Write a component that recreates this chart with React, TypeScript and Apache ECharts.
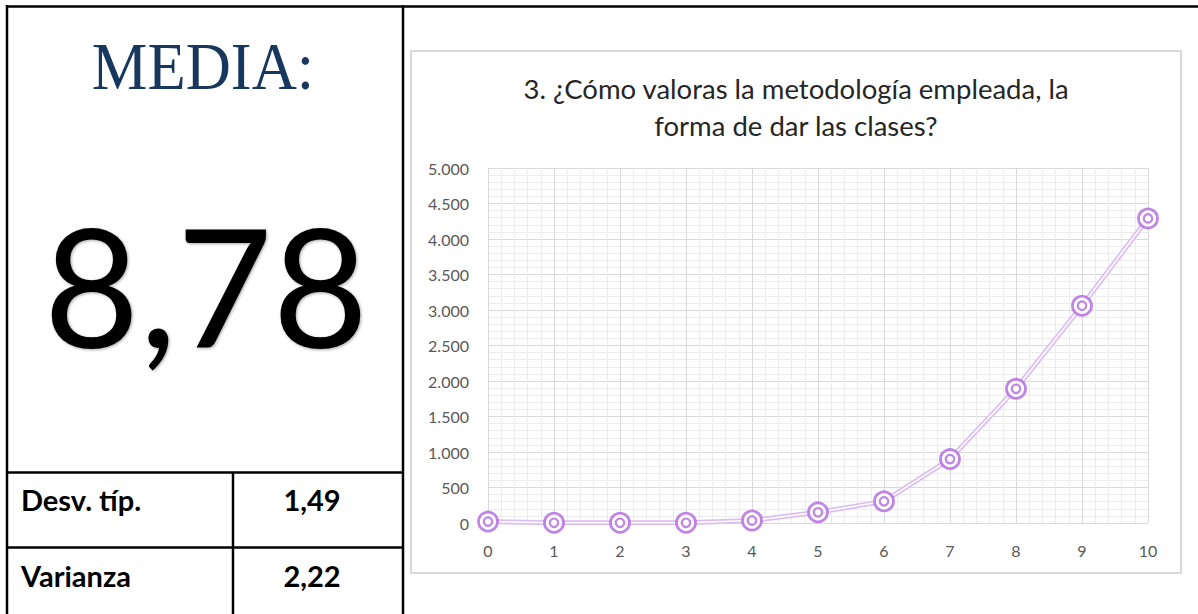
import React, { useEffect, useRef } from "react";
import * as echarts from "echarts";

// ---- data ----
const xValues = [0, 1, 2, 3, 4, 5, 6, 7, 8, 9, 10];
const yValues = [20, 3, 3, 3, 35, 150, 305, 900, 1890, 3060, 4290];
const chartTitle = "3. ¿Cómo valoras la metodología empleada, la\nforma de dar las clases?";
const meanLabel = "MEDIA:";
const meanValue = "8,78";
const statNames = ["Desv. típ.", "Varianza"];
const statValues = ["1,49", "2,22"];

const fmtThousands = (v: number) => String(v).replace(/\B(?=(\d{3})+(?!\d))/g, ".");

export default function App() {
  const ref = useRef<HTMLDivElement>(null);
  useEffect(() => {
    if (!ref.current) return;
    const chart = echarts.init(ref.current, null, { renderer: "svg" });
    const pts = xValues.map((x, i) => [x, yValues[i]]);
    const black = "#000";
    const lineW = 2.5;
    const statRowsY = [499, 575];
    const graphics: any[] = [
      // outer frame
      { type: "line", shape: { x1: 6, y1: 6.5, x2: 1198, y2: 6.5 }, style: { stroke: black, lineWidth: lineW } },
      { type: "line", shape: { x1: 7, y1: 5, x2: 7, y2: 614 }, style: { stroke: black, lineWidth: lineW } },
      { type: "line", shape: { x1: 403, y1: 5, x2: 403, y2: 614 }, style: { stroke: black, lineWidth: lineW } },
      { type: "line", shape: { x1: 6, y1: 472.5, x2: 404, y2: 472.5 }, style: { stroke: black, lineWidth: lineW } },
      { type: "line", shape: { x1: 6, y1: 547.5, x2: 404, y2: 547.5 }, style: { stroke: black, lineWidth: lineW } },
      { type: "line", shape: { x1: 233, y1: 472, x2: 233, y2: 614 }, style: { stroke: black, lineWidth: lineW } },
      // chart box
      { type: "rect", shape: { x: 411, y: 51, width: 770, height: 522 }, style: { fill: "none", stroke: "#d9d9d9", lineWidth: 2 } },
      // MEDIA:
      {
        type: "text", x: 203, y: 66, scaleX: 0.92, originX: 0,
        style: { text: meanLabel, fontFamily: "Liberation Serif", fontSize: 68, fill: "#17375E", align: "center", verticalAlign: "middle" },
      },
      {
        type: "text", x: 206, y: 284,
        style: { text: meanValue, fontFamily: "Lato", fontSize: 165, fill: "#000", align: "center", verticalAlign: "middle", textShadowColor: "rgba(0,0,0,0.35)", textShadowBlur: 3, textShadowOffsetX: 1, textShadowOffsetY: 1 },
      },
    ];
    statNames.forEach((n, i) => {
      graphics.push({
        type: "text", x: 21, y: statRowsY[i],
        style: { text: n, fontFamily: "Lato", fontWeight: "bold", fontSize: 29, fill: "#000", align: "left", verticalAlign: "middle" },
      });
      graphics.push({
        type: "text", x: 312, y: statRowsY[i],
        style: { text: statValues[i], fontFamily: "Lato", fontWeight: "bold", fontSize: 29, fill: "#000", align: "center", verticalAlign: "middle" },
      });
    });

    chart.setOption({
      animation: false,
      backgroundColor: "#fff",
      title: {
        text: chartTitle,
        left: 796,
        top: 70,
        padding: 0,
        textAlign: "center",
        textStyle: { fontFamily: "Lato", fontSize: 27.5, fontWeight: "normal", color: "#262626", lineHeight: 37 },
      },
      grid: { left: 488, right: 50, top: 168, bottom: 91, containLabel: false, outerBoundsMode: "none" },
      xAxis: {
        type: "value", min: 0, max: 10, interval: 1,
        axisLine: { show: false }, axisTick: { show: false },
        axisLabel: { color: "#595959", fontFamily: "Lato", fontSize: 16, margin: 19 },
        splitLine: { show: true, lineStyle: { color: "#d9d9d9", width: 1 } },
        minorTick: { show: false, splitNumber: 5 },
        minorSplitLine: { show: true, lineStyle: { color: "#ececec", width: 1 } },
      },
      yAxis: {
        type: "value", min: 0, max: 5000, interval: 500,
        axisLine: { show: false }, axisTick: { show: false },
        axisLabel: { color: "#595959", fontFamily: "Lato", fontSize: 16, margin: 19, formatter: (v: number) => fmtThousands(v) },
        splitLine: { show: true, lineStyle: { color: "#d9d9d9", width: 1 } },
        minorTick: { show: false, splitNumber: 5 },
        minorSplitLine: { show: true, lineStyle: { color: "#ececec", width: 1 } },
      },
      series: [
        { type: "line", data: pts, symbol: "none", lineStyle: { color: "#dcbff2", width: 5 }, z: 2 },
        { type: "line", data: pts, symbol: "none", lineStyle: { color: "#ffffff", width: 1.5 }, z: 3 },
        { type: "scatter", data: pts, symbol: "circle", symbolSize: 19, itemStyle: { color: "#fff", borderColor: "#b066de", borderWidth: 2.8 }, z: 4 },
        { type: "scatter", data: pts, symbol: "circle", symbolSize: 8.5, itemStyle: { color: "#fff", borderColor: "#b066de", borderWidth: 2.2 }, z: 5 },
      ],
      graphic: graphics,
    });
    return () => chart.dispose();
  }, []);
  return <div ref={ref} style={{ position: "absolute", left: 0, top: 0, width: 1198, height: 614 }} />;
}
